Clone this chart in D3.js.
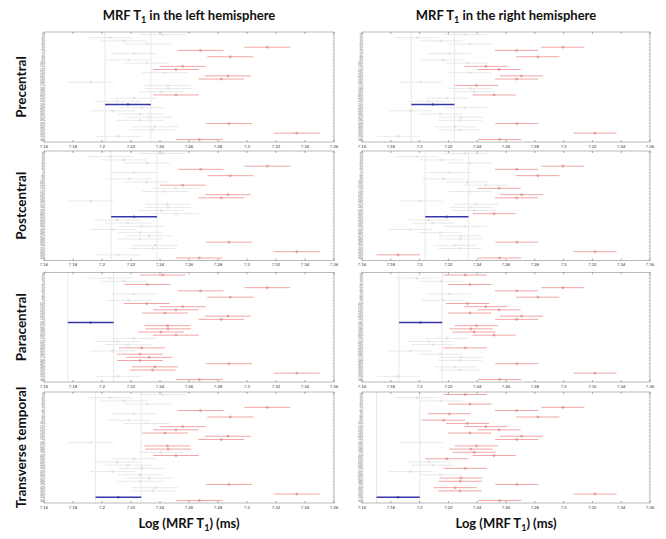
<!DOCTYPE html>
<html><head><meta charset="utf-8">
<script src="https://cdn.jsdelivr.net/npm/d3@7"></script>
<style>body{margin:0;background:#fff}svg{display:block}</style>
</head><body>
<svg id="c" width="666" height="539"></svg>
<script>
// ---------- data ----------
const hemispheres = ["left", "right"];
const regions = ["Precentral", "Postcentral", "Paracentral", "Transverse temporal"];
const groupLabels = ["1","2","3","4","5","6","7","8","9","10","11","12","13","14","15","16","17",
  "18","19","20","21","22","23","24","25","26","27","28","29","30","31","32","33","34"];
const leftMeans = [7.2418, 7.2055, 7.2152, 7.2313, 7.3140, 7.2680, 7.2221, 7.2885, 7.2184, 7.2308,
  7.2556, 7.2510, 7.2434, 7.2869, 7.2823, 7.1922, 7.2451, 7.2457, 7.2407, 7.2510,
  7.2221, 7.2106, 7.2179, 7.2274, 7.2074, 7.2262, 7.2326, 7.2262, 7.2876, 7.2366,
  7.2349, 7.3343, 7.2113, 7.2671];
const rightMeans = [7.2317, 7.1982, 7.2149, 7.2349, 7.2995, 7.2674, 7.2207, 7.2821, 7.2166, 7.2333,
  7.2460, 7.2552, 7.2349, 7.2708, 7.2674, 7.2007, 7.2395, 7.2356, 7.2379, 7.2517,
  7.2189, 7.2064, 7.2092, 7.2317, 7.1936, 7.2143, 7.2287, 7.2283, 7.2676, 7.2248,
  7.2280, 7.3218, 7.1851, 7.2556];
const halfWidths = [0.0158, 0.0150];           // left, right
const selectedGroup = [23, 21, 16, 33];        // per region (1-based), same in both hemispheres
const xTickValues = [7.16, 7.18, 7.2, 7.22, 7.24, 7.26, 7.28, 7.3, 7.32, 7.34, 7.36];
const xTickLabels = ["7.16","7.18","7.2","7.22","7.24","7.26","7.28","7.3","7.32","7.34","7.36"];

// ---------- layout ----------
const cols = [{x0: 44, x1: 334}, {x0: 362, x1: 650}];
const rowsY = [{y0: 32, y1: 142}, {y0: 151, y1: 260.5}, {y0: 272.5, y1: 382}, {y0: 392, y1: 503}];
const FONT = "Lato, 'Open Sans', sans-serif";
const svg = d3.select("#c");

const RED = "#ef9c9c", RED_M = "#d86a6a", GRAY = "#e6e6e6", GRAY_M = "#d4d4d4", BLUE = "#3535a8";

hemispheres.forEach((h, ci) => {
  const means = ci === 0 ? leftMeans : rightMeans;
  const hw = halfWidths[ci];
  const c = cols[ci];
  const x = d3.scaleLinear().domain([7.16, 7.36]).range([c.x0, c.x1]);
  regions.forEach((reg, ri) => {
    const r = rowsY[ri];
    const y = d3.scalePoint().domain(groupLabels).range([r.y0 + 2.5, r.y1 - 2.5]);
    const g = svg.append("g");
    const sel = selectedGroup[ri] - 1;
    const sm = means[sel];
    // reference lines at selected interval bounds
    [sm - hw, sm + hw].forEach(v => {
      g.append("line").attr("x1", x(v)).attr("x2", x(v)).attr("y1", r.y0).attr("y2", r.y1)
        .attr("stroke", "#dadada").attr("stroke-width", 0.6);
    });
    // box
    g.append("rect").attr("x", c.x0).attr("y", r.y0).attr("width", c.x1 - c.x0).attr("height", r.y1 - r.y0)
      .attr("fill", "none").attr("stroke", "#8a8a8a").attr("stroke-width", 0.6);
    // x ticks (inward, top and bottom)
    xTickValues.forEach((v, i) => {
      g.append("line").attr("x1", x(v)).attr("x2", x(v)).attr("y1", r.y1).attr("y2", r.y1 - 2)
        .attr("stroke", "#555").attr("stroke-width", 0.5);
      g.append("line").attr("x1", x(v)).attr("x2", x(v)).attr("y1", r.y0).attr("y2", r.y0 + 2)
        .attr("stroke", "#555").attr("stroke-width", 0.5);
      g.append("text").attr("x", x(v)).attr("y", r.y1 + 5.5).attr("text-anchor", "middle")
        .attr("font-family", FONT).attr("font-size", 4.2).attr("fill", "#333").text(xTickLabels[i]);
    });
    // y ticks and labels
    groupLabels.forEach(l => {
      g.append("line").attr("x1", c.x0).attr("x2", c.x0 + 1.5).attr("y1", y(l)).attr("y2", y(l))
        .attr("stroke", "#999").attr("stroke-width", 0.4);
      g.append("line").attr("x1", c.x1).attr("x2", c.x1 - 1.5).attr("y1", y(l)).attr("y2", y(l))
        .attr("stroke", "#999").attr("stroke-width", 0.4);
      g.append("text").attr("x", c.x0 - 0.8).attr("y", y(l) + 1).attr("text-anchor", "end")
        .attr("font-family", FONT).attr("font-size", 2.8).attr("fill", "#666").text(l);
    });
    // intervals
    means.forEach((m, i) => {
      const isSel = i === sel;
      const sig = Math.abs(m - sm) > 2 * hw;
      const col = isSel ? BLUE : (sig ? RED : GRAY);
      const mcol = isSel ? BLUE : (sig ? RED_M : GRAY_M);
      const yy = y(groupLabels[i]);
      g.append("line").attr("x1", x(m - hw)).attr("x2", x(m + hw)).attr("y1", yy).attr("y2", yy)
        .attr("stroke", col).attr("stroke-width", isSel ? 1.5 : 0.9);
      g.append("circle").attr("cx", x(m)).attr("cy", yy).attr("r", 1)
        .attr("fill", "none").attr("stroke", mcol).attr("stroke-width", 0.6);
    });
  });
  // column title
  const cx = (c.x0 + c.x1) / 2;
  const t = svg.append("text").attr("x", cx).attr("y", 20).attr("text-anchor", "middle")
    .attr("font-family", FONT).attr("font-weight", "bold").attr("font-size", 13).attr("fill", "#111");
  t.append("tspan").text("MRF T");
  t.append("tspan").attr("font-size", 9).attr("dy", 3).text("1");
  t.append("tspan").attr("dy", -3).text(" in the " + h + " hemisphere");
  // x axis title
  const xt = svg.append("text").attr("x", cx).attr("y", 528).attr("text-anchor", "middle")
    .attr("font-family", FONT).attr("font-weight", "bold").attr("font-size", 13).attr("fill", "#111");
  xt.append("tspan").text("Log (MRF T");
  xt.append("tspan").attr("font-size", 9).attr("dy", 3).text("1");
  xt.append("tspan").attr("dy", -3).text(") (ms)");
});

// region labels
regions.forEach((reg, ri) => {
  const r = rowsY[ri];
  const cy = (r.y0 + r.y1) / 2;
  svg.append("text").attr("transform", `translate(26,${cy}) rotate(-90)`).attr("text-anchor", "middle")
    .attr("font-family", FONT).attr("font-weight", "bold").attr("font-size", 13.5).attr("fill", "#111")
    .text(reg);
});
</script>
</body></html>
